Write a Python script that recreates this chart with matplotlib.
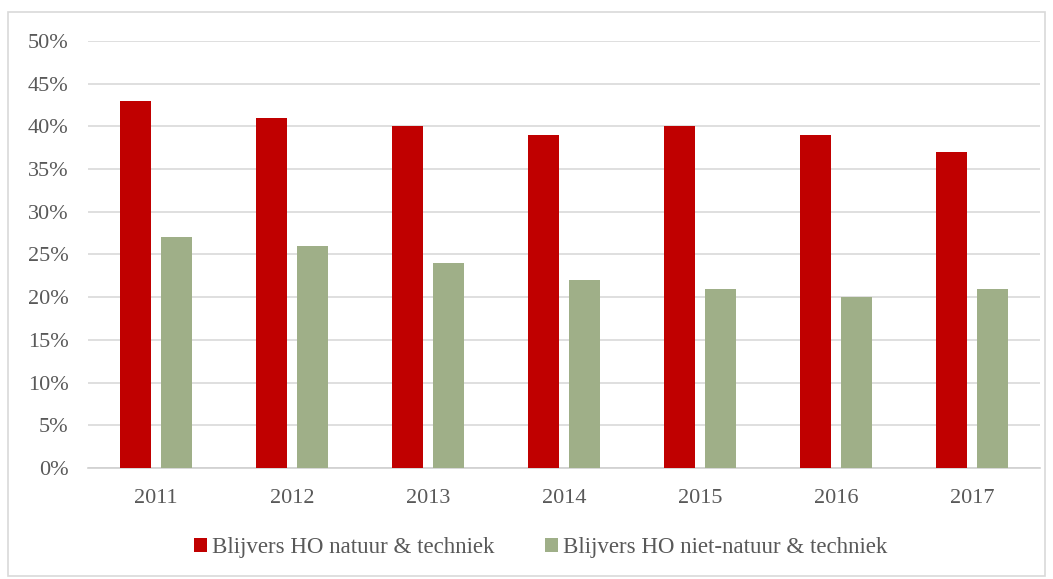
import numpy as np
import matplotlib.pyplot as plt
from matplotlib.patches import Rectangle

years = ["2011", "2012", "2013", "2014", "2015", "2016", "2017"]
natuur = [43, 41, 40, 39, 40, 39, 37]
niet_natuur = [27, 26, 24, 22, 21, 20, 21]
labels = ["Blijvers HO natuur & techniek", "Blijvers HO niet-natuur & techniek"]

plt.rcParams['font.family'] = ['Liberation Serif', 'DejaVu Serif']

fig = plt.figure(figsize=(10.53, 5.79), dpi=100)
ax = fig.add_axes([88/1053, 1-468/579, 952/1053, 427/579])

x = np.arange(len(years))
w = 0.23
ax.bar(x - 0.15, natuur, w, color="#C00000", label=labels[0], zorder=3)
ax.bar(x + 0.15, niet_natuur, w, color="#9FAF88", label=labels[1], zorder=3)

ax.set_xlim(-0.5, len(years) - 0.5)
ax.set_ylim(0, 50)
ax.set_yticks(np.arange(0, 51, 5))
ax.set_yticklabels(["{}%".format(v) for v in range(0, 51, 5)])
ax.set_xticks(x)
ax.set_xticklabels(years)
ax.tick_params(axis="both", length=0, labelsize=16, colors="#595959")
ax.tick_params(axis="y", pad=14)
ax.tick_params(axis="x", pad=15)
ax.grid(axis="y", color="#d9d9d9", linewidth=1.2, zorder=0)
for s in ["top", "right", "left"]:
    ax.spines[s].set_visible(False)
ax.spines["bottom"].set_color("#d0d0d0")
ax.spines["bottom"].set_linewidth(1.2)

fig.legend(loc="center", bbox_to_anchor=(541/1053, 1-548/579), ncol=2, frameon=False,
           fontsize=16.5, handlelength=0.57, handleheight=0.57, handletextpad=0.22,
           columnspacing=2.2, labelcolor="#595959")

fig.patches.append(Rectangle((8/1053, 1-576/579), 1037/1053, 564/579, transform=fig.transFigure,
                             fill=False, edgecolor="#d9d9d9", linewidth=1.2))

fig.savefig("out.png", dpi=100)
